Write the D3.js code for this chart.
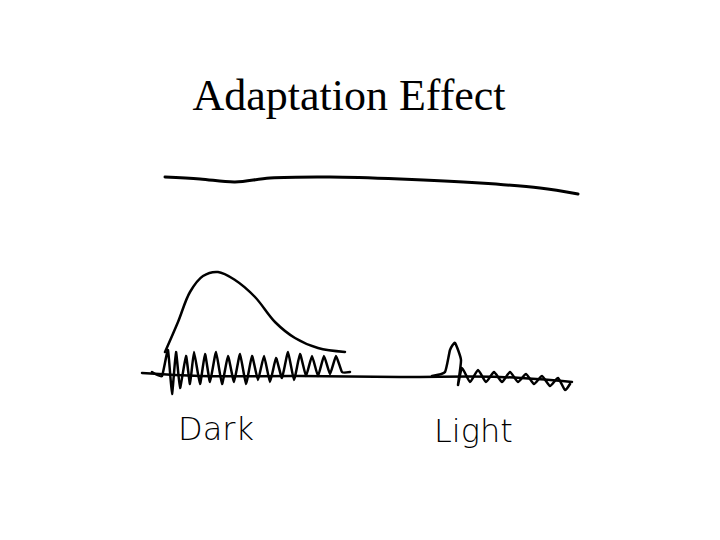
<!DOCTYPE html>
<html><head><meta charset="utf-8">
<script src="https://cdn.jsdelivr.net/npm/d3@7"></script>
<style>body{margin:0;background:#fff}</style>
</head><body>
<script>
// sketch strokes, in picture units (0..720 x 0..540)
var topLineX = [165, 200, 235, 270, 330, 400, 480, 540, 578];
var topLineY = [177, 179, 182, 178, 177, 179, 183, 188, 194];

var bumpX = [165, 178, 190, 203, 218, 235, 255, 275, 295, 318, 345];
var bumpY = [352, 322, 292, 276, 272, 280, 297, 322, 338, 348, 352];

var baseX = [142, 200, 300, 400, 500, 572];
var baseY = [373, 376, 376, 377, 377, 382];

var darkX = [152, 162, 168, 172, 176, 180, 186, 190, 194, 200, 205, 210, 216, 222, 228, 234, 240, 246, 252, 258, 264, 270, 276, 282, 288, 294, 300, 306, 312, 318, 324, 330, 336, 342, 350];
var darkY = [372, 376, 350, 394, 352, 388, 356, 384, 352, 384, 354, 382, 352, 384, 356, 382, 354, 384, 356, 380, 356, 382, 358, 378, 352, 380, 354, 376, 356, 376, 356, 374, 356, 372, 372];

var lightX = [432, 445, 450, 455, 461, 458, 462, 470, 478, 486, 494, 502, 510, 518, 526, 534, 542, 550, 558, 565, 570];
var lightY = [376, 372, 350, 343, 360, 385, 368, 382, 370, 382, 372, 382, 372, 382, 374, 384, 376, 386, 378, 390, 384];

var labels = ["Dark", "Light"];
var labelX = [178, 434];
var labelY = [440, 442];

var w = 720, h = 540;
var svg = d3.select("body").append("svg").attr("width", w).attr("height", h);
var x = d3.scaleLinear().domain([0, 720]).range([0, w]);
var y = d3.scaleLinear().domain([0, 540]).range([0, h]);

svg.append("text").attr("x", x(349)).attr("y", y(110))
   .attr("text-anchor", "middle")
   .style("font-family", "Liberation Serif, Times New Roman, serif")
   .style("font-size", "44px")
   .text("Adaptation Effect");

function stroke(xs, ys, curve, width) {
  var line = d3.line().x(function(d) { return x(d[0]); }).y(function(d) { return y(d[1]); }).curve(curve);
  svg.append("path").attr("d", line(d3.zip(xs, ys)))
     .attr("fill", "none").attr("stroke", "#000")
     .attr("stroke-width", width).attr("stroke-linecap", "round").attr("stroke-linejoin", "round");
}

stroke(topLineX, topLineY, d3.curveCatmullRom, 3);
stroke(bumpX, bumpY, d3.curveCatmullRom, 2.5);
stroke(baseX, baseY, d3.curveCatmullRom, 2.5);
stroke(darkX, darkY, d3.curveCardinal.tension(0.6), 2.5);
stroke(lightX, lightY, d3.curveCardinal.tension(0.5), 2.5);

svg.selectAll("text.lab").data(labels).enter().append("text").attr("class", "lab")
   .attr("x", function(d, i) { return x(labelX[i]); })
   .attr("y", function(d, i) { return y(labelY[i]); })
   .style("font-family", "DejaVu Sans, sans-serif")
   .style("font-size", "32px").style("font-weight", "200")
   .text(function(d) { return d; });
</script>
</body></html>
